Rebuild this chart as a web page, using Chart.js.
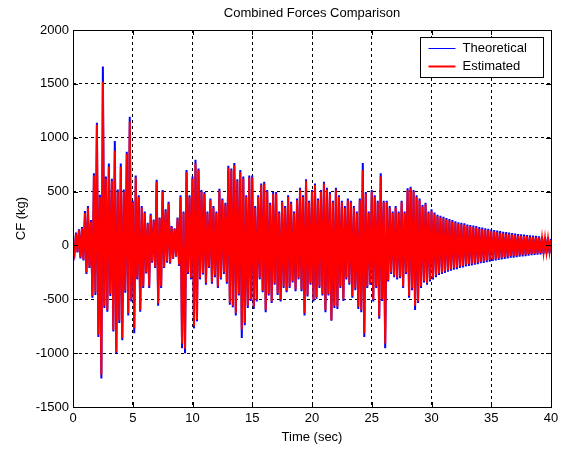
<!DOCTYPE html>
<html>
<head>
<meta charset="utf-8">
<title>Combined Forces Comparison</title>
<script src="https://cdn.jsdelivr.net/npm/chart.js@4.4.1/dist/chart.umd.min.js"></script>
<style>
    html, body { margin: 0; padding: 0; background: #fff; }
</style>
</head>
<body>
<canvas id="cfChart" width="566" height="449"></canvas>
<script>
// read-off samples are 0.125 s apart (8 per row = 1 second per row)
const timeStep = 0.125;

const xTicks = [0, 5, 10, 15, 20, 25, 30, 35, 40];
const yTicks = [-1500, -1000, -500, 0, 500, 1000, 1500, 2000];

const seriesNames = ["Theoretical", "Estimated"];

// CF (kg)
const theoretical = [
    0, -75, 120, -65, 150, -120, 170, -140,
    320, -265, 365, -210, 235, -485, 670, -460,
    1140, -850, 470, -1235, 1660, -580, 640, -615,
    760, -470, 620, -800, 970, -1000, 520, -720,
    760, -880, 520, -440, 870, -650, 1195, -520,
    415, -815, 650, -315, 465, -615, 365, -395,
    315, -260, 210, -395, 295, -160, 240, -210,
    610, -560, 260, -395, 515, -210, 335, -160,
    405, -170, 180, -125, 160, -105, 260, -190,
    465, -955, 315, -1000, 700, -265, 465, -315,
    640, -770, 795, -705, 715, -315, 515, -270,
    495, -365, 315, -210, 435, -355, 365, -295,
    315, -395, 525, -315, 435, -265, 395, -355,
    740, -550, 715, -575, 765, -650, 615, -465,
    700, -860, 640, -740, 465, -580, 650, -515,
    650, -590, 365, -520, 465, -315, 575, -435,
    590, -620, 515, -465, 395, -535, 495, -365,
    495, -460, 315, -520, 415, -395, 365, -435,
    465, -395, 405, -345, 315, -425, 435, -315,
    535, -425, 465, -650, 615, -475, 415, -365,
    515, -520, 575, -495, 435, -395, 515, -465,
    590, -620, 535, -465, 495, -700, 415, -580,
    535, -590, 465, -395, 415, -515, 365, -315,
    435, -365, 415, -485, 365, -415, 315, -590,
    435, -620, 765, -850, 495, -395, 315, -365,
    515, -520, 465, -395, 415, -680, 670, -515,
    415, -955, 415, -335, 365, -265, 315, -295,
    365, -315, 315, -305, 415, -395, 315, -265,
    530, -485, 545, -415, 515, -600, 465, -535,
    435, -395, 375, -345, 395, -365, 315, -335,
    335, -315, 305, -295, 285, -275, 275, -265,
    265, -255, 255, -245, 245, -235, 235, -225,
    225, -220, 215, -210, 210, -205, 205, -195,
    195, -190, 190, -185, 185, -180, 180, -175,
    170, -165, 165, -163, 160, -155, 155, -150,
    147, -145, 143, -140, 137, -135, 133, -130,
    127, -125, 123, -120, 119, -115, 115, -113,
    110, -108, 106, -104, 104, -102, 100, -99,
    97, -95, 93, -91, 91, -89, 88, -86,
    85, -83, 80, -78, 78, -76, 74, -72,
    60
];

const estimated = [
    0, -70, 110, -60, 140, -110, 160, -130,
    300, -250, 350, -200, 220, -470, 650, -440,
    1120, -830, 450, -1200, 1520, -560, 620, -600,
    730, -450, 600, -785, 880, -990, 500, -700,
    730, -860, 500, -420, 850, -630, 1150, -500,
    400, -770, 630, -300, 450, -600, 350, -380,
    300, -250, 200, -380, 280, -150, 230, -200,
    590, -540, 250, -380, 500, -200, 320, -150,
    390, -160, 170, -120, 150, -100, 250, -180,
    450, -910, 300, -960, 680, -250, 450, -300,
    620, -750, 760, -690, 700, -300, 500, -255,
    480, -350, 300, -200, 420, -340, 350, -280,
    300, -380, 510, -300, 420, -250, 380, -340,
    720, -535, 700, -560, 745, -630, 600, -450,
    680, -780, 620, -720, 450, -560, 630, -500,
    630, -570, 350, -505, 450, -300, 560, -420,
    575, -600, 500, -450, 380, -520, 480, -350,
    480, -445, 300, -505, 400, -380, 350, -420,
    450, -380, 390, -330, 300, -410, 420, -300,
    520, -410, 450, -630, 600, -460, 400, -350,
    500, -505, 560, -480, 420, -380, 500, -450,
    575, -600, 520, -450, 480, -690, 400, -560,
    520, -570, 450, -380, 400, -500, 350, -300,
    420, -350, 400, -470, 350, -400, 300, -570,
    420, -600, 700, -815, 480, -380, 300, -350,
    500, -505, 450, -380, 400, -660, 640, -500,
    400, -910, 400, -320, 350, -250, 300, -280,
    350, -300, 300, -290, 400, -380, 300, -250,
    515, -470, 530, -400, 500, -560, 450, -520,
    420, -380, 360, -330, 380, -350, 300, -320,
    320, -300, 290, -280, 270, -260, 260, -250,
    250, -240, 240, -230, 230, -220, 220, -210,
    210, -205, 200, -195, 195, -190, 190, -180,
    180, -175, 175, -170, 170, -165, 165, -160,
    155, -150, 150, -148, 145, -140, 140, -135,
    132, -130, 128, -125, 122, -120, 118, -115,
    112, -110, 108, -105, 104, -100, 100, -98,
    96, -94, 92, -90, 90, -88, 86, -85,
    84, -82, 80, -78, 78, -76, 75, -73,
    72, -70, 68, -66, 66, -64, 62, -60,
    50
];

const FONT = '"Liberation Sans", Arial, Helvetica, sans-serif';
Chart.defaults.font.family = FONT;
Chart.defaults.font.size = 13;
Chart.defaults.color = "#000";

function toPoints(values) {
    return values.map((v, i) => ({ x: i * timeStep, y: v }));
}

// matlab style frame, inward ticks, title and boxed legend
const matlabLook = {
    id: "matlabLook",
    afterDraw(chart) {
        const ctx = chart.ctx;
        const area = chart.chartArea;
        const xs = chart.scales.x;
        const ys = chart.scales.y;
        const tick = 5;

        ctx.save();
        ctx.strokeStyle = "#000";
        ctx.lineWidth = 1;
        ctx.setLineDash([]);

        ctx.beginPath();
        xTicks.forEach(t => {
            const px = Math.round(xs.getPixelForValue(t)) + 0.5;
            ctx.moveTo(px, area.bottom);
            ctx.lineTo(px, area.bottom - tick);
            ctx.moveTo(px, area.top);
            ctx.lineTo(px, area.top + tick);
        });
        yTicks.forEach(t => {
            const py = Math.round(ys.getPixelForValue(t)) + 0.5;
            ctx.moveTo(area.left, py);
            ctx.lineTo(area.left + tick, py);
            ctx.moveTo(area.right, py);
            ctx.lineTo(area.right - tick, py);
        });
        ctx.stroke();

        ctx.strokeRect(Math.round(area.left) + 0.5, Math.round(area.top) + 0.5,
            Math.round(area.right - area.left), Math.round(area.bottom - area.top));

        // title
        ctx.fillStyle = "#000";
        ctx.font = "13px " + FONT;
        ctx.textAlign = "center";
        ctx.textBaseline = "middle";
        ctx.fillText("Combined Forces Comparison", (area.left + area.right) / 2, 13);

        // legend box
        const bx = Math.round(area.right) - 130.5;
        const by = Math.round(area.top) + 7.5;
        const bw = 123;
        const bh = 40;
        ctx.fillStyle = "#fff";
        ctx.fillRect(bx, by, bw, bh);
        ctx.strokeRect(bx, by, bw, bh);

        const colors = ["#0000ff", "#ff0000"];
        const widths = [1, 2];
        seriesNames.forEach((name, i) => {
            const ly = by + 11 + i * 18;
            ctx.strokeStyle = colors[i];
            ctx.lineWidth = widths[i];
            ctx.beginPath();
            ctx.moveTo(bx + 8, ly);
            ctx.lineTo(bx + 35, ly);
            ctx.stroke();
            ctx.fillStyle = "#000";
            ctx.textAlign = "left";
            ctx.fillText(name, bx + 42, ly);
        });
        ctx.restore();
    }
};

const ctx = document.getElementById("cfChart").getContext("2d");

new Chart(ctx, {
    type: "line",
    data: {
        datasets: [
            {
                label: seriesNames[0],
                data: toPoints(theoretical),
                borderColor: "#0000ff",
                borderWidth: 2,
                order: 2
            },
            {
                label: seriesNames[1],
                data: toPoints(estimated),
                borderColor: "#ff0000",
                borderWidth: 2,
                order: 1
            }
        ]
    },
    options: {
        responsive: false,
        animation: false,
        layout: { padding: { left: 14, right: 15, top: 30, bottom: 4 } },
        elements: {
            point: { radius: 0 },
            line: { tension: 0, fill: false }
        },
        plugins: {
            legend: { display: false },
            title: { display: false },
            tooltip: { enabled: false }
        },
        scales: {
            x: {
                type: "linear",
                min: 0,
                max: 40,
                afterBuildTicks: scale => { scale.ticks = xTicks.map(v => ({ value: v })); },
                afterFit: scale => { scale.height = 38; },
                ticks: { padding: 4, maxRotation: 0, callback: v => String(v) },
                grid: { color: "#000", lineWidth: 1, drawTicks: false },
                border: { display: false, dash: [3, 3] },
                title: { display: true, text: "Time (sec)", padding: { top: 2, bottom: 0 } }
            },
            y: {
                min: -1500,
                max: 2000,
                afterBuildTicks: scale => { scale.ticks = yTicks.map(v => ({ value: v })); },
                afterFit: scale => { scale.width = 59; },
                ticks: { padding: 4, callback: v => String(v) },
                grid: { color: "#000", lineWidth: 1, drawTicks: false },
                border: { display: false, dash: [3, 3] },
                title: { display: true, text: "CF (kg)", padding: { top: 0, bottom: 0 } }
            }
        }
    },
    plugins: [matlabLook]
});
</script>
</body>
</html>
